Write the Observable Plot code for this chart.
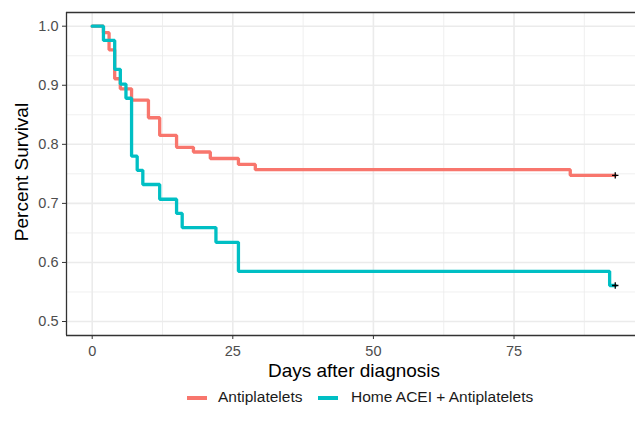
<!DOCTYPE html>
<html>
<head>
<meta charset="utf-8">
<script src="https://cdn.jsdelivr.net/npm/d3@7"></script>
<script src="https://cdn.jsdelivr.net/npm/@observablehq/plot@0.6"></script>
<style>
  html, body { margin: 0; padding: 0; background: white; }
  #wrap { position: relative; width: 635px; height: 432px; font-family: "Liberation Sans", Arial, sans-serif; }
  #legend { position: absolute; left: 0; top: 387px; width: 635px; height: 20px; font-size: 15.5px; color: #1a1a1a; }
  .key { position: absolute; top: 9px; width: 20px; height: 4px; }
  .lab { position: absolute; top: 0px; line-height: 20px; white-space: nowrap; }
</style>
</head>
<body>
<div id="wrap">
  <div id="chart"></div>
  <div id="legend"></div>
</div>
<script>
// ---- data ----
const groups = ["Antiplatelets", "Home ACEI + Antiplatelets"];
const colors = ["#F8766D", "#00BFC4"];

const daysAntiplatelets = [0, 2, 3, 4, 5, 7, 10, 12, 15, 18, 21, 26, 29, 85, 93];
const survAntiplatelets = [1, 0.989, 0.96, 0.911, 0.894, 0.875, 0.845, 0.815, 0.795, 0.787, 0.776, 0.766, 0.757, 0.7475, 0.7475];

const daysAcei = [0, 2, 4, 5, 6, 7, 8, 9, 12, 15, 16, 22, 26, 92, 93];
const survAcei = [1, 0.976, 0.927, 0.902, 0.878, 0.780, 0.756, 0.732, 0.707, 0.683, 0.659, 0.634, 0.585, 0.561, 0.561];

const xTicks = [0, 25, 50, 75];
const xMinor = [12.5, 37.5, 62.5, 87.5];
const yTicks = [0.5, 0.6, 0.7, 0.8, 0.9, 1.0];
const yMinor = [0.55, 0.65, 0.75, 0.85, 0.95];

const xTitle = "Days after diagnosis";
const yTitle = "Percent Survival";

// ---- build tables ----
const series = [
  ...daysAntiplatelets.map((d, i) => ({group: groups[0], day: d, surv: survAntiplatelets[i]})),
  ...daysAcei.map((d, i) => ({group: groups[1], day: d, surv: survAcei[i]}))
];
const censor = [
  {group: groups[0], day: daysAntiplatelets[daysAntiplatelets.length - 1], surv: survAntiplatelets[survAntiplatelets.length - 1]},
  {group: groups[1], day: daysAcei[daysAcei.length - 1], surv: survAcei[survAcei.length - 1]}
];

const xDomain = [-4.57, 96.6];
const yDomain = [0.4763, 1.0232];

const plusSymbol = {
  draw(ctx, size) {
    const r = Math.sqrt(size) / 2;
    ctx.moveTo(-r, 0); ctx.lineTo(r, 0);
    ctx.moveTo(0, -r); ctx.lineTo(0, r);
  }
};

const chart = Plot.plot({
  width: 635,
  height: 388,
  marginLeft: 66,
  marginRight: 0,
  marginTop: 12,
  marginBottom: 53,
  style: {fontFamily: "'Liberation Sans', Arial, sans-serif", background: "white", overflow: "visible"},
  x: {domain: xDomain, label: null},
  y: {domain: yDomain, label: null},
  color: {domain: groups, range: colors},
  marks: [
    Plot.ruleX(xMinor, {stroke: "#ebebeb", strokeWidth: 0.8}),
    Plot.ruleY(yMinor, {stroke: "#ebebeb", strokeWidth: 0.8}),
    Plot.ruleX(xTicks, {stroke: "#ebebeb", strokeWidth: 1.6}),
    Plot.ruleY(yTicks, {stroke: "#ebebeb", strokeWidth: 1.6}),
    Plot.ruleX([xDomain[0]], {stroke: "#333333", strokeWidth: 1.3}),
    Plot.ruleY([yDomain[0]], {stroke: "#333333", strokeWidth: 1.3}),
    Plot.ruleY([yDomain[1]], {stroke: "#333333", strokeWidth: 1.3}),
    Plot.line(series, {x: "day", y: "surv", z: "group", stroke: "group", curve: "step-after", strokeWidth: 3.3, strokeLinejoin: "miter"}),
    Plot.dot(censor, {x: "day", y: "surv", symbol: plusSymbol, r: 3.6, stroke: "black", strokeWidth: 1.3, fill: "none"}),
    Plot.axisX({ticks: xTicks, tickSize: 4, tickPadding: 6, stroke: "#333333", fill: "#4d4d4d", fontSize: 14.5, label: null}),
    Plot.axisY({ticks: yTicks, tickSize: 4, tickPadding: 4, stroke: "#333333", fill: "#4d4d4d", fontSize: 14.5, tickFormat: d3.format(".1f"), label: null}),
    Plot.text([xTitle], {frameAnchor: "bottom", textAnchor: "middle", text: d => d, dy: 41, dx: 3, fontSize: 19, fill: "black"}),
    Plot.text([yTitle], {frameAnchor: "left", textAnchor: "middle", text: d => d, dx: -45, dy: -2, rotate: -90, fontSize: 19, fill: "black"})
  ]
});
document.getElementById("chart").appendChild(chart);

// ---- legend ----
const legend = document.getElementById("legend");
const keyX = [187, 318];
const labX = [218, 351];
groups.forEach((g, i) => {
  const k = document.createElement("div");
  k.className = "key";
  k.style.left = keyX[i] + "px";
  k.style.background = colors[i];
  legend.appendChild(k);
  const t = document.createElement("div");
  t.className = "lab";
  t.style.left = labX[i] + "px";
  t.textContent = g;
  legend.appendChild(t);
});
</script>
</body>
</html>
